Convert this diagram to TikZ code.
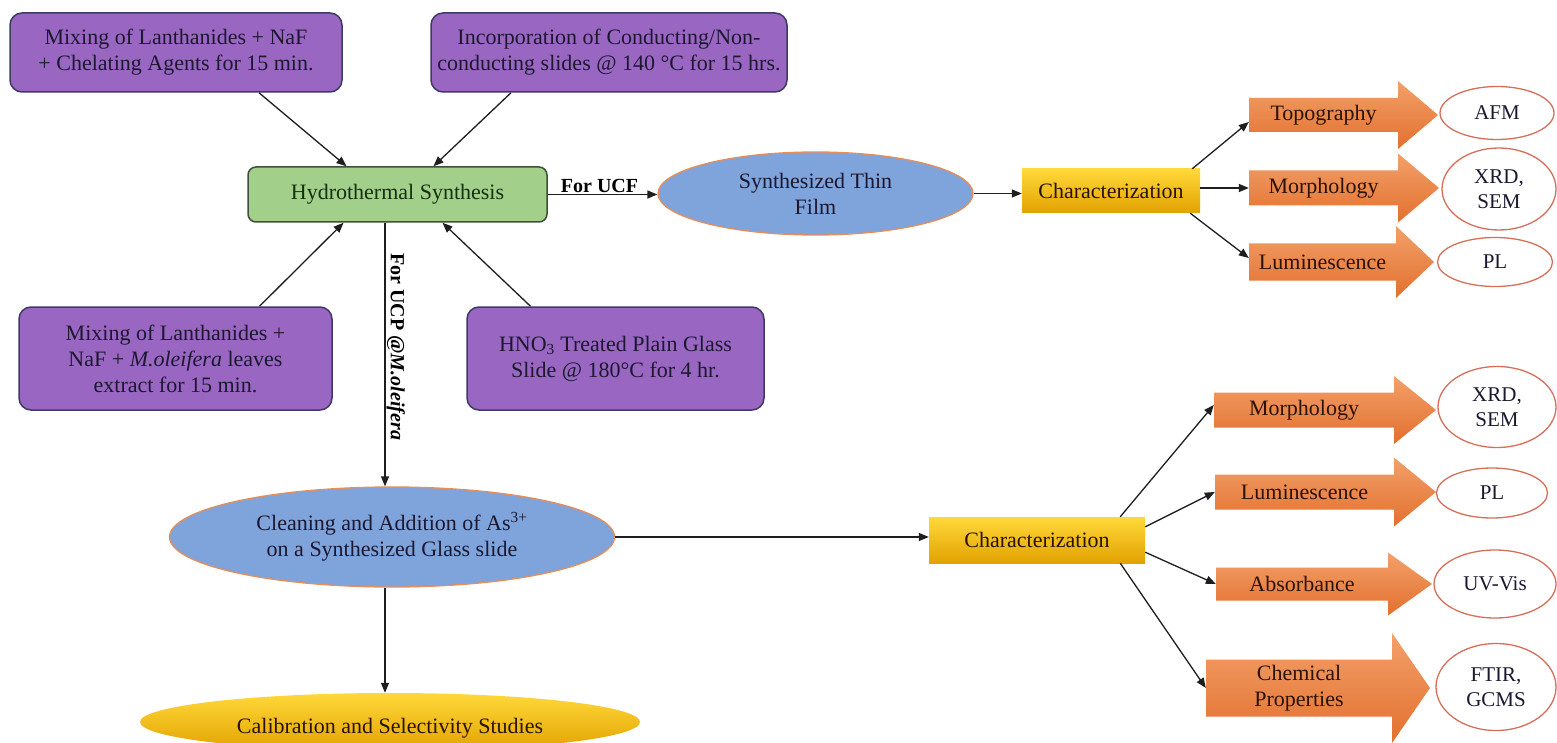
\documentclass[tikz,border=0pt]{standalone}
\usepackage{fontspec}
\setmainfont{Liberation Serif}
\usetikzlibrary{shapes.geometric,arrows.meta}
\definecolor{purpfill}{HTML}{9966C2}
\definecolor{purpdraw}{HTML}{3E3A66}
\definecolor{greenfill}{HTML}{A2CF8A}
\definecolor{greendraw}{HTML}{3F4F3C}
\definecolor{bluefill}{HTML}{7FA3DB}
\definecolor{bluedraw}{HTML}{E58E5A}
\definecolor{yellowtop}{HTML}{FFD93A}
\definecolor{yellowbot}{HTML}{E2A200}
\definecolor{orangetop}{HTML}{F3A06A}
\definecolor{orangebot}{HTML}{E2702E}
\definecolor{ovaldraw}{HTML}{D66F5A}
\definecolor{linecol}{HTML}{1E1E1E}
\definecolor{txtdark}{HTML}{1C1830}
\definecolor{txtgreen}{HTML}{16300F}
\definecolor{txtbrown}{HTML}{2A1205}
\newcommand\orangearrow[8]{%
  \shade[arrowfill] (#2,#5-#6/2) -- (#3,#5-#6/2) -- (#3,#5-#7/2) -- (#4,#5) -- (#3,#5+#7/2) -- (#3,#5+#6/2) -- (#2,#5+#6/2) -- cycle;
  \node[arrowtext, minimum width={(#3-#2)*1pt}, minimum height={#6*1pt}] (#1) at ({(#2+#3)/2},#5) {#8};
}
\tikzset{
  base/.style={font=\fontsize{22}{26}\selectfont, align=center, inner sep=0pt},
  purplebox/.style={base, rectangle, rounded corners=12pt, fill=purpfill, draw=purpdraw, line width=1.5pt, text=txtdark},
  greenbox/.style={base, rectangle, rounded corners=8pt, fill=greenfill, draw=greendraw, line width=1.5pt, text=txtgreen},
  blueoval/.style={base, ellipse, fill=bluefill, draw=bluedraw, line width=1.3pt, text=txtdark},
  whiteoval/.style={base, ellipse, fill=white, draw=ovaldraw, line width=1.3pt, text=txtdark, font=\fontsize{21}{25}\selectfont},
  goldbox/.style={base, rectangle, top color=yellowtop, bottom color=yellowbot, text=txtbrown},
  goldoval/.style={base, ellipse, top color=yellowtop, bottom color=yellowbot, text=txtbrown},
  arrowfill/.style={top color=orangetop, bottom color=orangebot},
  arrowtext/.style={base, text=txtbrown},
  conn/.style={draw=linecol, line width=1.3pt, -{Triangle[length=10pt,width=8pt]}},
  lbl/.style={font=\fontsize{20}{24}\selectfont\bfseries, text=black, inner sep=1pt}
}
\begin{document}
\begin{tikzpicture}[x=1pt,y=-1pt]
\useasboundingbox (0,0) rectangle (1557,743);
\fill[white] (0,0) rectangle (1557,743);
\clip (0,0) rectangle (1557,743);

% left part
\node[purplebox, minimum width=332pt, minimum height=79pt] (b1) at (176,52.5)
  {Mixing of Lanthanides + NaF\\+ Chelating Agents for 15 min.};
\node[purplebox, minimum width=356pt, minimum height=79pt] (b2) at (609,52.5)
  {Incorporation of Conducting/Non-\\conducting slides @ 140 °C for 15 hrs.};
\node[greenbox, minimum width=299pt, minimum height=55pt] (hs) at (397.5,194.5)
  {Hydrothermal Synthesis};
\node[purplebox, minimum width=313pt, minimum height=103pt] (b3) at (175.5,358.5)
  {Mixing of Lanthanides +\\NaF + \textit{M.oleifera} leaves\\extract for 15 min.};
\node[purplebox, minimum width=297pt, minimum height=103pt] (b4) at (615.5,358.5)
  {HNO\textsubscript{3} Treated Plain Glass\\Slide @ 180°C for 4 hr.};

\draw[conn] ([xshift=83pt]b1.south) -- ([xshift=-51pt]hs.north);
\draw[conn] ([xshift=-98pt]b2.south) -- ([xshift=36pt]hs.north);
\draw[conn] ([xshift=84pt]b3.north) -- ([xshift=-54pt]hs.south);
\draw[conn] ([xshift=-85pt]b4.north) -- ([xshift=45pt]hs.south);

\node[blueoval, minimum width=315pt, minimum height=83pt] (thin) at (815.5,193.5)
  {Synthesized Thin\\Film};
\draw[conn] (hs.east) -- (hs.east -| thin.west) node[lbl, midway, above, xshift=-3pt] {For UCF};

\node[blueoval, minimum width=445pt, minimum height=100pt] (clean) at (392,537)
  {Cleaning and Addition of As\textsuperscript{3+}\\on a Synthesized Glass slide};
\coordinate (vx) at (385,0);
\draw[conn] (hs.south -| vx) -- (clean.north -| vx)
  node[lbl, pos=0.47, rotate=-90, anchor=south] {For UCP @\textit{M.oleifera}};

\node[goldoval, minimum width=500pt, minimum height=58pt] (calib) at (390,722) {};
\node[base, text=txtbrown] (calibtext) at (390,728) {Calibration and Selectivity Studies};
\draw[conn] (clean.south -| vx) -- (calib.north -| vx);

% upper characterization
\node[goldbox, minimum width=178pt, minimum height=44pt] (ch1) at (1111,191) {Characterization};
\draw[conn] (thin.east) -- (thin.east -| ch1.west);

\orangearrow{topo}{1249}{1398}{1438}{115}{34}{68}{Topography}
\orangearrow{morph1}{1249}{1398}{1439}{188}{35}{69}{Morphology}
\orangearrow{lum1}{1249}{1396}{1434}{262}{37}{72}{Luminescence}

\draw[conn] ([xshift=-8pt]ch1.north east) -- ([yshift=-7pt]topo.west);
\draw[conn] (ch1.east |- morph1.west) -- (morph1.west);
\draw[conn] ([xshift=-10pt]ch1.south east) -- ([yshift=4pt]lum1.west);

\node[whiteoval, minimum width=114pt, minimum height=53pt] (afm) at (1497,113) {AFM};
\node[whiteoval, minimum width=114pt, minimum height=82pt] (xrd1) at (1499,189) {XRD,\\SEM};
\node[whiteoval, minimum width=115pt, minimum height=49pt] (pl1) at (1495,262) {PL};

% lower characterization
\node[goldbox, minimum width=216pt, minimum height=46pt] (ch2) at (1037,540) {Characterization};
\draw[conn] (clean.east) -- (clean.east -| ch2.west);

\orangearrow{morph2}{1214}{1394}{1436}{410}{35}{68}{Morphology}
\orangearrow{lum2}{1215}{1394}{1436}{492}{35}{69}{Luminescence}
\orangearrow{abs}{1216}{1388}{1432}{584}{33}{63}{Absorbance}
\orangearrow{chem}{1206}{1392}{1430}{688}{57}{110}{Chemical\\Properties}

\draw[conn] ([xshift=-25pt]ch2.north east) -- ([yshift=5pt]morph2.west);
\draw[conn] ([yshift=-10pt]ch2.north east) -- (lum2.west);
\draw[conn] ([yshift=11pt]ch2.south east) -- (abs.west);
\draw[conn] ([xshift=-25pt]ch2.south east) -- (chem.west);

\node[whiteoval, minimum width=118pt, minimum height=81pt] (xrd2) at (1497,407) {XRD,\\SEM};
\node[whiteoval, minimum width=111pt, minimum height=50pt] (pl2) at (1492,493) {PL};
\node[whiteoval, minimum width=122pt, minimum height=68pt] (uv) at (1495,584) {UV-Vis};
\node[whiteoval, minimum width=120pt, minimum height=87pt] (ftir) at (1496,687) {FTIR,\\GCMS};
\end{tikzpicture}
\end{document}
